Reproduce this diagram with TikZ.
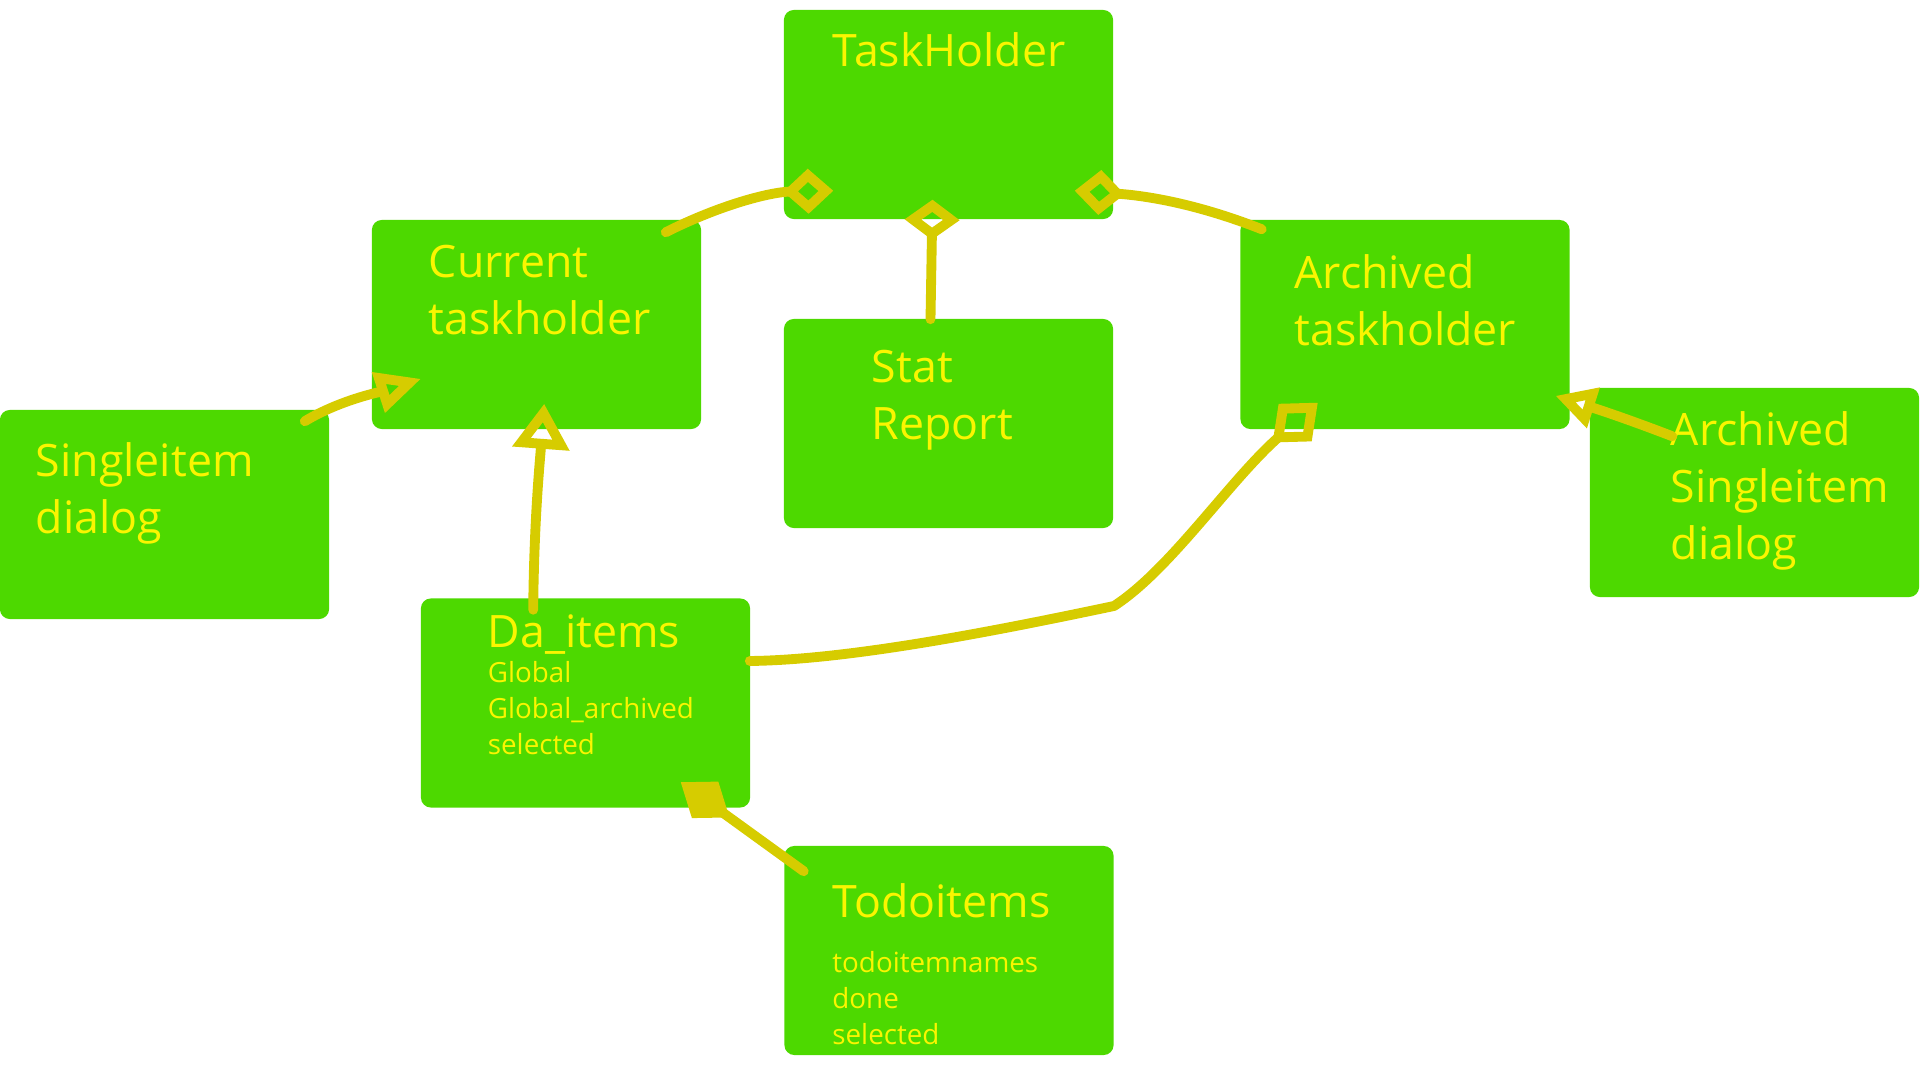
\documentclass[tikz,border=0pt]{standalone}
\usepackage{fontspec}
\setmainfont{Open Sans}
\usepackage{tikz}
\usetikzlibrary{arrows.meta}
\definecolor{boxgreen}{RGB}{77,217,0}
\definecolor{inkyellow}{RGB}{214,204,0}
\definecolor{txtyellow}{RGB}{250,245,0}
\tikzset{
  classbox/.style={
    rectangle,
    rounded corners=1mm,
    fill=boxgreen,
    minimum width=3.29cm, minimum height=2.09cm,
    inner sep=0pt
  },
  boxtitle/.style={
    anchor=base west, inner sep=0pt, align=left,
    text=txtyellow, font=\fontsize{12.7}{16.2}\selectfont
  },
  boxfields/.style={
    boxtitle, font=\fontsize{7.9}{10.2}\selectfont
  },
  ink/.style={
    draw=inkyellow, line width=2.8pt,
    line cap=round, line join=round
  },
}

\begin{document}
\begin{tikzpicture}[x=0.01cm,y=-0.01cm]
  \useasboundingbox (0,0) rectangle (1920,1080);

  % classes
  \node[classbox] (th) at (948.5,114.5) {};
  \node[classbox] (cur) at (536.5,324.5) {};
  \node[classbox] (stat) at (948.5,423.5) {};
  \node[classbox] (arch) at (1405,324.5) {};
  \node[classbox] (single) at (164.5,514.5) {};
  \node[classbox] (asingle) at (1754.5,492.5) {};
  \node[classbox] (da) at (585.5,703) {};
  \node[classbox] (todo) at (949,950.5) {};

  % texts (base is the baseline of the last line)
  \node[boxtitle] (th-t) at ([shift={(49,57)}]th.north west) {TaskHolder};
  \node[boxtitle] (cur-t) at ([shift={(57,115)}]cur.north west) {Current\\taskholder};
  \node[boxtitle] (stat-t) at ([shift={(88,121)}]stat.north west) {Stat\\Report};
  \node[boxtitle] (arch-t) at ([shift={(54,126)}]arch.north west) {Archived\\taskholder};
  \node[boxtitle] (single-t) at ([shift={(36,124)}]single.north west) {Singleitem\\dialog};
  \node[boxtitle] (asingle-t) at ([shift={(81,172)}]asingle.north west) {Archived\\Singleitem\\dialog};
  \node[boxtitle] (da-t) at ([shift={(67,50)}]da.north west) {Da\_items};
  \node[boxfields] (da-f) at ([shift={(67,157)}]da.north west) {Global\\Global\_archived\\selected};
  \node[boxtitle] (todo-t) at ([shift={(48,72)}]todo.north west) {Todoitems};
  \node[boxfields] (todo-f) at ([shift={(48,199)}]todo.north west) {todoitemnames\\done\\selected};

  % links
  \draw[ink,-{Diamond[open,length=5mm,width=4.5mm]}]
    ([shift={(-36,13)}]cur.north east) .. controls (720,205) and (770,192) .. ([shift={(50,-29)}]th.south west);
  \draw[ink,-{Diamond[open,length=4mm,width=5.5mm]}]
    ([shift={(-18,1)}]stat.north) -- ([shift={(-16,-20)}]th.south);
  \draw[ink,-{Diamond[open,length=5mm,width=4.5mm]}]
    ([shift={(22,10)}]arch.north west) .. controls (1200,205) and (1150,196) .. ([shift={(-39,-29)}]th.south east);
  \draw[ink,-{Triangle[open,length=4.5mm,width=4mm]}]
    ([shift={(-25,12)}]single.north east) .. controls (340,400) and (380,392) .. ([shift={(50,-51)}]cur.south west);
  \draw[ink,-{Triangle[open,length=4.5mm,width=5.5mm]}]
    ([shift={(113,12)}]da.north west) .. controls (534,520) and (540,460) .. ([shift={(173,-26)}]cur.south west);
  \draw[ink,-{Diamond[open,length=6mm,width=5mm]}]
    ([shift={(-1,-42)}]da.east) .. controls (850,660) and (1000,630) .. (1114,606)
    .. controls (1170,570) and (1230,480) .. ([shift={(78,-27)}]arch.south west);
  \draw[ink,-{Triangle[open,length=4mm,width=4mm]}]
    ([shift={(83,49)}]asingle.north west) .. controls (1630,420) and (1600,410) .. ([shift={(-15,-34)}]arch.south east);
  \draw[ink,-{Diamond[length=6mm,width=4.5mm]}]
    ([shift={(20,26)}]todo.north west) -- ([shift={(-70,-26)}]da.south east);
\end{tikzpicture}
\end{document}
